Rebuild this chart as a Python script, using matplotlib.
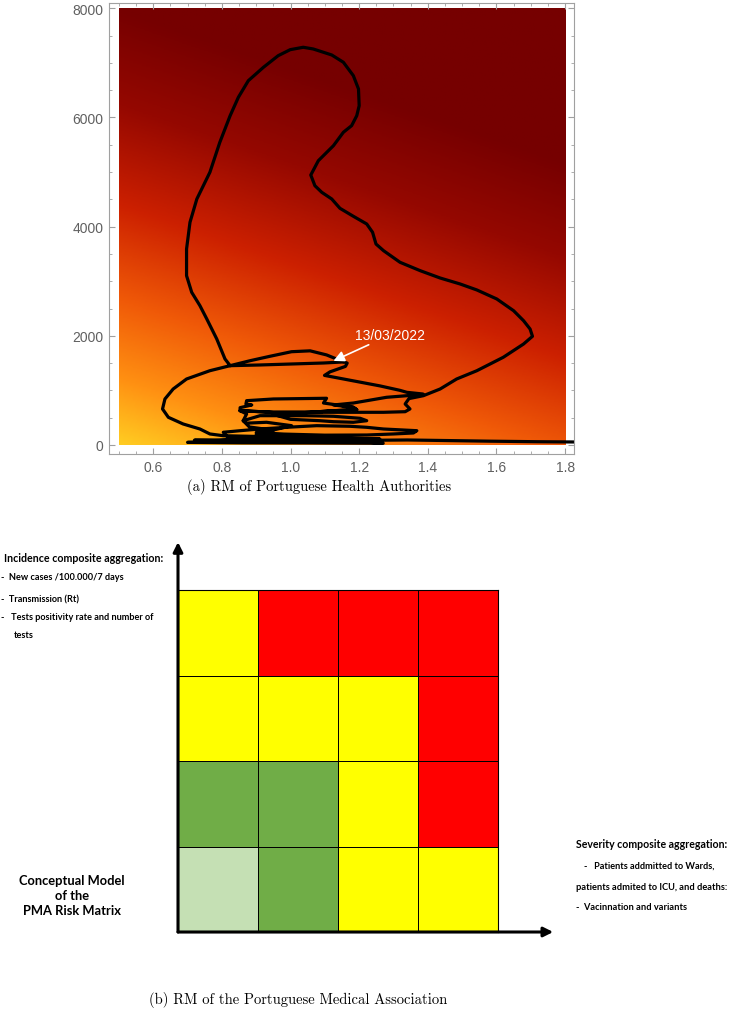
#------------------------------->[IMPORT]<--------------------------------------#
import numpy as np
import matplotlib
matplotlib.use("Agg")
import matplotlib.pyplot as plt
from matplotlib.colors import LinearSegmentedColormap, ListedColormap
from matplotlib.ticker import MultipleLocator
#-------------------------------------------------------------------------------#

#------------------------------->[DATA]<----------------------------------------#
# (a) trajectory: transmission (Rt) vs incidence
rt = [1.83, 1.72, 1.58, 1.45, 1.34, 1.27,
      1.12, 0.95, 0.78, 0.70, 0.86, 1.05, 1.27,
      1.20, 1.00, 0.82, 0.72, 0.90, 1.08, 1.26,
      1.15, 0.96, 0.82,
      0.804, 0.853, 0.911, 0.989, 1.076, 1.173, 1.222, 1.271, 1.368, 1.358, 1.300, 1.222,
      1.10, 0.98, 0.90, 0.95,
      0.88, 0.862, 0.872,
      0.853, 0.853, 0.887, 0.870, 0.872, 0.950, 1.105, 1.096, 1.183, 1.193, 1.125, 1.057,
      0.950, 0.853, 0.950, 1.057, 1.125, 1.193, 1.183, 1.125,
      1.183, 1.280, 1.339, 1.386, 1.339,
      1.319, 1.261, 1.173, 1.115, 1.099, 1.115, 1.160, 1.165, 1.140, 1.105, 1.057, 1.003,
      0.940, 0.882, 0.824, 0.765, 0.697, 0.658, 0.634, 0.627, 0.644, 0.687, 0.736, 0.765, 0.804,
      0.95, 1.10, 0.85, 0.75, 1.00, 1.22, 1.05,
      0.90, 1.003, 0.930, 0.872, 0.862, 0.911, 1.047, 1.125, 1.203, 1.222, 1.183, 1.125, 1.086,
      1.00, 0.95,
      1.057, 1.183, 1.271, 1.334, 1.348, 1.334, 1.345, 1.387,
      1.436, 1.484, 1.543, 1.620, 1.679, 1.705, 1.698, 1.679, 1.650, 1.601, 1.543, 1.494,
      1.436, 1.378, 1.319, 1.271, 1.249, 1.239, 1.222, 1.183, 1.144, 1.120, 1.091, 1.071,
      1.059, 1.081, 1.125, 1.154, 1.178, 1.193, 1.200, 1.198, 1.183, 1.154, 1.120, 1.066,
      1.037, 0.999, 0.964, 0.921, 0.877, 0.848, 0.824, 0.794, 0.765, 0.727, 0.707, 0.697,
      0.697, 0.712, 0.736, 0.756, 0.785, 0.809, 0.824,
      0.911, 1.008, 1.096, 1.150]
incidence = [55, 60, 70, 82, 92, 88,
             80, 72, 60, 48, 40, 38, 32,
             62, 68, 75, 88, 100, 96, 110,
             128, 140, 125,
             233, 262, 293, 324, 354, 343, 324, 293, 262, 220, 202, 183,
             180, 200, 230, 270,
             330, 445, 568,
             628, 684, 733, 751, 812, 843, 856, 769, 691, 647, 628, 599,
             599, 628, 599, 599, 628, 647, 691, 733,
             769, 874, 903, 934, 965,
             1001, 1082, 1186, 1253, 1275, 1340, 1440, 1500, 1560, 1650, 1725, 1709,
             1625, 1544, 1453, 1361, 1209, 1026, 843, 660, 507, 385, 293, 202, 170,
             150, 140, 95, 70, 60, 75, 110,
             200, 354, 416, 400, 445, 537, 537, 526, 489, 445, 416, 427, 445,
             470, 560,
             599, 599, 599, 610, 660, 751, 850, 903,
             1026, 1209, 1361, 1607, 1850, 1991, 2125, 2277, 2460, 2675, 2840, 2950,
             3059, 3193, 3347, 3560, 3682, 3897, 4049, 4190, 4336, 4507, 4629, 4750,
             4946, 5208, 5483, 5729, 5850, 6033, 6216, 6522, 6766, 7011, 7145, 7255,
             7286, 7242, 7132, 6919, 6674, 6370, 6033, 5546, 4996, 4507, 4080, 3591,
             3102, 2797, 2552, 2308, 1942, 1576, 1453,
             1466, 1484, 1502, 1520]

last_date = "13/03/2022"
last_point = (1.125, 1540)
x_ticks = [0.6, 0.8, 1.0, 1.2, 1.4, 1.6, 1.8]
y_ticks = [0, 2000, 4000, 6000, 8000]

# (b) PMA risk matrix, rows from top to bottom
# 0 light green, 1 green, 2 yellow, 3 red
risk_levels = [[2, 3, 3, 3],
               [2, 2, 2, 3],
               [1, 1, 2, 3],
               [0, 1, 2, 2]]
risk_colors = ["#C5E0B4", "#70AD47", "#FFFF00", "#FF0000"]
#-------------------------------------------------------------------------------#

#------------------------------->[FIGURE]<--------------------------------------#
W, H = 729, 1012
fig = plt.figure(figsize=(W / 100, H / 100), dpi=100)


def fx(px):
    return px / W


def fy(py):
    return 1 - py / H


#------------------------------->[PANEL A]<-------------------------------------#
ax = fig.add_axes([fx(109), fy(455), fx(574) - fx(109), fy(4) - fy(455)])

cmap = LinearSegmentedColormap.from_list(
    "solar", [(0.0, "#FFCC22"), (0.15, "#FF9012"), (0.33, "#F05A08"),
              (0.55, "#CC2000"), (0.78, "#950800"), (1.0, "#760000")])
gx = np.linspace(0.5, 1.8, 300)
gy = np.linspace(0, 8000, 300)
GX, GY = np.meshgrid(gx, gy)
field = GY / 8000 + 0.35 * (GX - 0.5) / 1.3
ax.imshow(field, extent=[0.5, 1.8, 0, 8000], origin="lower", aspect="auto",
          cmap=cmap, vmin=0, vmax=1, interpolation="bilinear", zorder=0)

ax.plot(rt, incidence, color="black", lw=2.3, solid_joinstyle="round", zorder=2)

ax.annotate(last_date, xy=last_point, xytext=(1.29, 2015), color="white",
            fontsize=10, ha="center", va="center", family="Liberation Sans",
            arrowprops=dict(arrowstyle="-|>", color="white", lw=1.2,
                            mutation_scale=16, shrinkA=0, shrinkB=0), zorder=3)

ax.set_xlim(0.471, 1.826)
ax.set_ylim(-165, 8097)
ax.set_xticks(x_ticks)
ax.set_yticks(y_ticks)
ax.xaxis.set_minor_locator(MultipleLocator(0.05))
ax.yaxis.set_minor_locator(MultipleLocator(500))
ax.tick_params(which="both", direction="in", top=True, right=True,
               color="#A0A0A0", labelcolor="#606060", labelsize=10)
ax.tick_params(which="major", length=4, pad=4)
ax.tick_params(which="minor", length=2)
for lab in ax.get_xticklabels() + ax.get_yticklabels():
    lab.set_family("Liberation Sans")
for sp in ax.spines.values():
    sp.set_color("#A0A0A0")

fig.text(fx(319), fy(487), "(a) RM of Portuguese Health Authorities",
         ha="center", va="center", family="cmr10", fontsize=10.5)

#------------------------------->[PANEL B]<-------------------------------------#
ax2 = fig.add_axes([fx(178), fy(933), fx(498) - fx(178), fy(591) - fy(933)])
grid = np.flipud(np.array(risk_levels))
ax2.pcolormesh(np.arange(5), np.arange(5), grid, cmap=ListedColormap(risk_colors),
               vmin=-0.5, vmax=3.5, edgecolors="black", linewidth=0.6)
ax2.set_xlim(0, 4)
ax2.set_ylim(0, 4)
ax2.set_xticks([])
ax2.set_yticks([])
for sp in ax2.spines.values():
    sp.set_linewidth(0.8)
    sp.set_color("black")

arrow = dict(arrowstyle="-|>", lw=2.2, color="black", mutation_scale=14,
             shrinkA=0, shrinkB=0)
ax2.annotate("", xy=(0, 4.56), xytext=(0, 0), arrowprops=arrow, annotation_clip=False)
ax2.annotate("", xy=(4.69, 0), xytext=(0, 0), arrowprops=arrow, annotation_clip=False)

font_b = dict(family=["Lato", "DejaVu Sans"], fontweight="bold")
fig.text(fx(4), fy(558), "Incidence composite aggregation:", fontsize=7.7,
         va="center", **font_b)
fig.text(fx(1), fy(578), "-  New cases /100.000/7 days", fontsize=6.6, va="center", **font_b)
fig.text(fx(1), fy(600), "-  Transmission (Rt)", fontsize=6.6, va="center", **font_b)
fig.text(fx(1), fy(618), "-   Tests positivity rate and number of", fontsize=6.6,
         va="center", **font_b)
fig.text(fx(14), fy(636), "tests", fontsize=6.6, va="center", **font_b)

fig.text(fx(72), fy(896), "Conceptual Model\nof the\nPMA Risk Matrix", fontsize=9.3,
         ha="center", va="center", linespacing=1.3, **font_b)

fig.text(fx(576), fy(845), "Severity composite aggregation:", fontsize=7.6,
         va="center", **font_b)
fig.text(fx(584), fy(866), "-   Patients addmitted to Wards,", fontsize=6.6,
         va="center", **font_b)
fig.text(fx(576), fy(888), "patients admited to ICU, and deaths:", fontsize=6.7,
         va="center", **font_b)
fig.text(fx(576), fy(908), "-  Vacinnation and variants", fontsize=6.7,
         va="center", **font_b)

fig.text(fx(298), fy(1000), "(b) RM of the Portuguese Medical Association",
         ha="center", va="center", family="cmr10", fontsize=10.5)

fig.savefig("out.png", dpi=100)
